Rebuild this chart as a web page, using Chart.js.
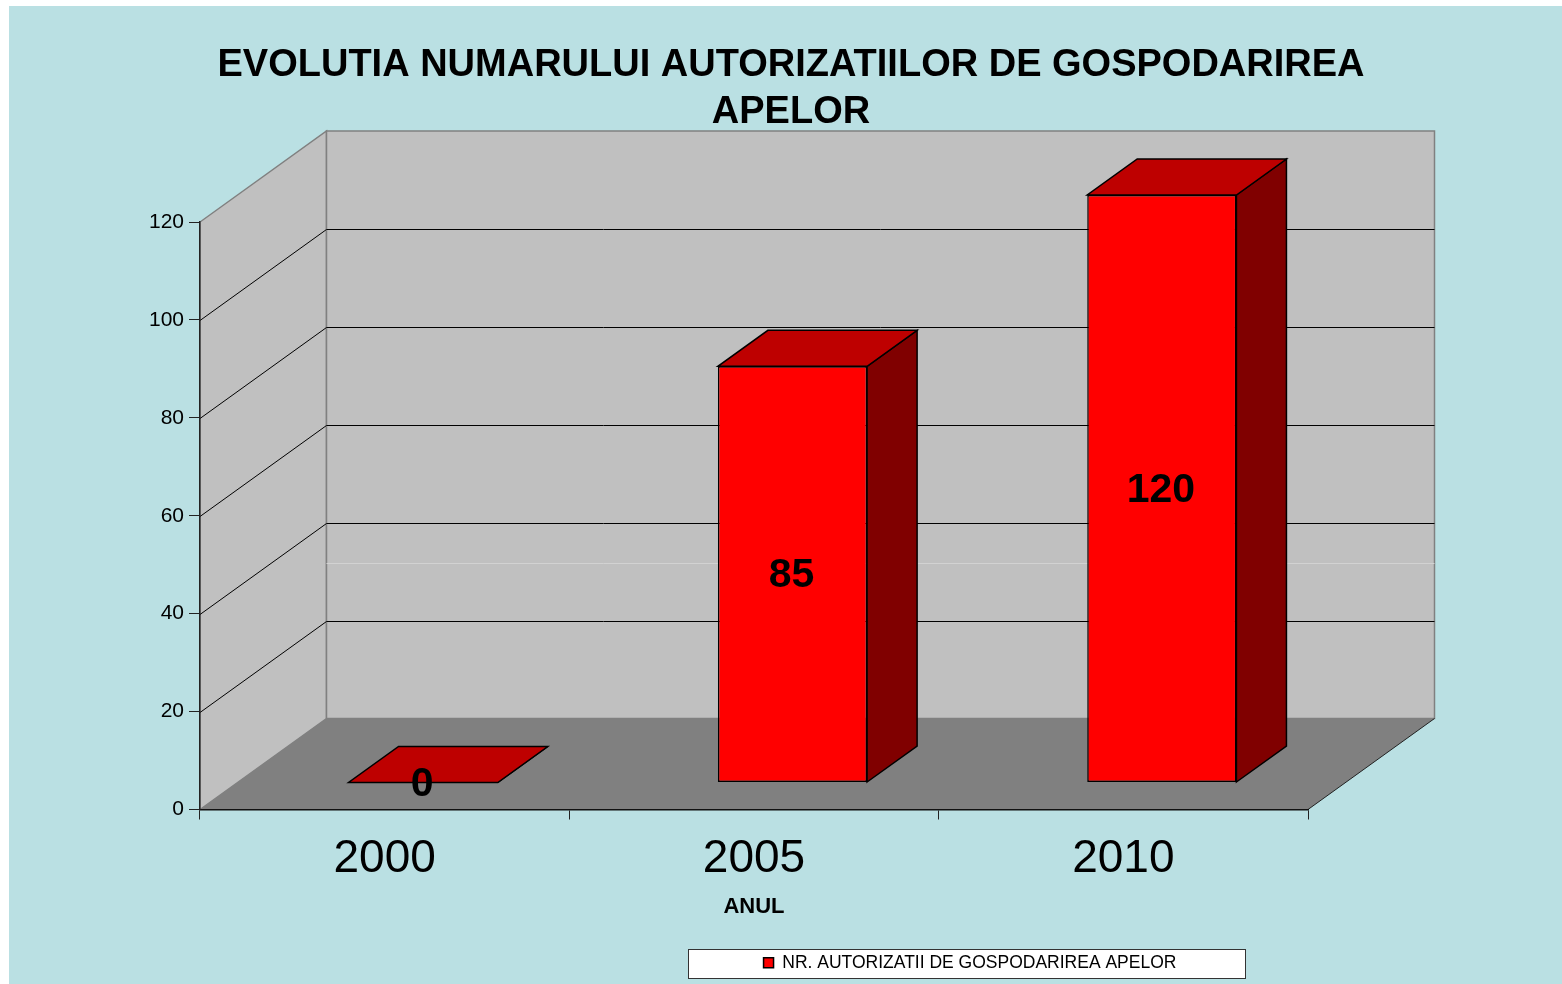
<!DOCTYPE html>
<html>
<head>
<meta charset="utf-8">
<title>Evolutia numarului autorizatiilor</title>
<script src="https://cdn.jsdelivr.net/npm/chart.js@4"></script>
<style>
  html, body { margin: 0; padding: 0; background: #fff; overflow: hidden; }
  canvas { display: block; }
</style>
</head>
<body>
<canvas id="chart" width="1562" height="984"></canvas>
<script>
const categories = ["2000", "2005", "2010"];
const authorizations = [0, 85, 120];
const seriesName = "NR. AUTORIZATII DE GOSPODARIREA APELOR";
const titleLines = ["EVOLUTIA NUMARULUI AUTORIZATIILOR DE GOSPODARIREA", "APELOR"];
const axisTitle = "ANUL";

// 3D look: depth of the box, depth of a bar and where the bars stand on the floor
const wallDepth = { x: 126.5, y: -91 };
const barDepth = { x: 50, y: -36 };
const barShift = { x: 38.5, y: -27 };

const FONT = "'Liberation Sans', Arial, sans-serif";

function poly(ctx, pts, fill, stroke) {
  ctx.beginPath();
  pts.forEach((p, i) => (i ? ctx.lineTo(p[0], p[1]) : ctx.moveTo(p[0], p[1])));
  ctx.closePath();
  if (fill) { ctx.fillStyle = fill; ctx.fill(); }
  if (stroke) { ctx.strokeStyle = stroke; ctx.lineWidth = 1.5; ctx.stroke(); }
}

const box3d = {
  id: "box3d",
  afterLayout(chart) {
    // title and legend do not sit where the layout puts them
    const t = chart.titleBlock;
    t.left = 20; t.right = 1562;
    const l = chart.legend;
    l.left = 691; l.right = 1249; l.top = 948; l.bottom = 977;
  },
  beforeDraw(chart) {
    const ctx = chart.ctx;
    const { left, right, top, bottom } = chart.chartArea;
    const dx = wallDepth.x, dy = wallDepth.y;
    const y = chart.scales.y;

    ctx.save();
    ctx.fillStyle = "#BAE0E3";
    ctx.fillRect(9, 6, 1553, 978);

    // walls and floor
    poly(ctx, [[left, bottom], [left + dx, bottom + dy], [left + dx, top + dy], [left, top]], "#C0C0C0", "#808080");
    poly(ctx, [[left + dx, top + dy], [right + dx, top + dy], [right + dx, bottom + dy], [left + dx, bottom + dy]], "#C0C0C0", "#808080");
    poly(ctx, [[left, bottom], [right, bottom], [right + dx, bottom + dy], [left + dx, bottom + dy]], "#808080", null);

    // faint line on the back wall
    ctx.strokeStyle = "#D2D2D2";
    ctx.lineWidth = 1;
    ctx.beginPath();
    ctx.moveTo(left + dx, 563.5);
    ctx.lineTo(right + dx, 563.5);
    ctx.stroke();

    // gridlines go along the side wall and across the back wall
    ctx.strokeStyle = "#000";
    y.ticks.forEach(tick => {
      if (tick.value === 0 || tick.value === y.max) return;
      const py = Math.round(y.getPixelForValue(tick.value)) + 0.5;
      ctx.beginPath();
      ctx.moveTo(left, py);
      ctx.lineTo(left + dx, py + dy);
      ctx.lineTo(right + dx, py + dy);
      ctx.stroke();
    });

    // right edge of the floor
    ctx.strokeStyle = "#222";
    ctx.beginPath();
    ctx.moveTo(right, bottom);
    ctx.lineTo(right + dx, bottom + dy);
    ctx.stroke();

    // legend box
    ctx.fillStyle = "#fff";
    ctx.strokeStyle = "#333";
    ctx.fillRect(688, 949, 558, 29);
    ctx.strokeRect(688.5, 949.5, 557, 29);
    ctx.restore();
  },
  beforeDatasetDraw(chart, args) {
    const ctx = chart.ctx;
    ctx.save();
    ctx.translate(barShift.x, barShift.y);
    args.meta.data.forEach(bar => {
      const l = bar.x - bar.width / 2, r = bar.x + bar.width / 2;
      const dx = barDepth.x, dy = barDepth.y;
      poly(ctx, [[r, bar.base], [r + dx, bar.base + dy], [r + dx, bar.y + dy], [r, bar.y]], "#800000", "#000");
      poly(ctx, [[l, bar.y], [r, bar.y], [r + dx, bar.y + dy], [l + dx, bar.y + dy]], "#BE0000", "#000");
    });
  },
  afterDatasetDraw(chart, args) {
    const ctx = chart.ctx;
    ctx.restore();
    // value labels in the middle of the front face
    ctx.save();
    ctx.fillStyle = "#000";
    ctx.font = "bold 41px " + FONT;
    ctx.textAlign = "center";
    ctx.textBaseline = "middle";
    args.meta.data.forEach((bar, i) => {
      const cy = (bar.y + bar.base) / 2 + barShift.y;
      ctx.fillText(authorizations[i], bar.x + barShift.x - 1, cy + 2);
    });
    ctx.restore();
  }
};

new Chart(document.getElementById("chart"), {
  type: "bar",
  plugins: [box3d],
  data: {
    labels: categories,
    datasets: [{
      label: seriesName,
      data: authorizations,
      backgroundColor: "#FF0000",
      borderColor: "#000",
      borderWidth: 1.5,
      borderSkipped: false,
      categoryPercentage: 1,
      barPercentage: 0.404
    }]
  },
  options: {
    responsive: false,
    animation: false,
    layout: { padding: { left: 100, right: 254, top: 0, bottom: 6 } },
    plugins: {
      tooltip: { enabled: false },
      title: {
        display: true,
        text: titleLines,
        color: "#000",
        font: { family: FONT, size: 38, weight: "bold", lineHeight: 1.237 },
        padding: { top: 42, bottom: 86 }
      },
      legend: {
        display: true,
        position: "bottom",
        labels: {
          color: "#000",
          font: { family: FONT, size: 17.5 },
          boxWidth: 10,
          boxHeight: 10,
          padding: 6
        }
      }
    },
    scales: {
      x: {
        grid: { drawOnChartArea: false, tickLength: 10, color: "#222" },
        border: { color: "#111", width: 1.5 },
        ticks: { color: "#000", font: { family: FONT, size: 46 }, padding: 12, maxRotation: 0 },
        title: {
          display: true,
          text: axisTitle,
          color: "#000",
          font: { family: FONT, size: 22, weight: "bold" },
          padding: { top: 0, bottom: 24 }
        },
        afterFit(scale) { scale.height = 135; }
      },
      y: {
        min: 0,
        max: 120,
        ticks: { stepSize: 20, color: "#000", font: { family: FONT, size: 21 }, padding: 5 },
        grid: { drawOnChartArea: false, tickLength: 11, color: "#222" },
        border: { color: "#222", width: 1.5 },
        afterFit(scale) { scale.width = 100; }
      }
    }
  }
});
</script>
</body>
</html>
